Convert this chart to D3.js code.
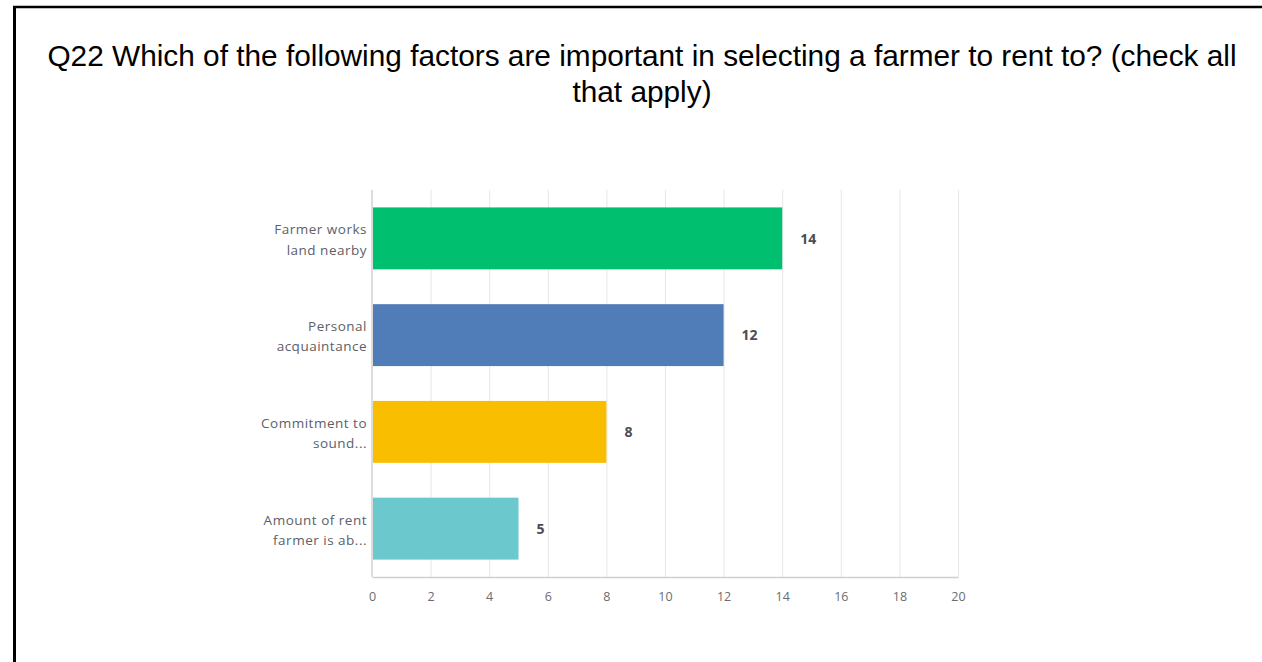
<!DOCTYPE html>
<html>
<head>
<meta charset="utf-8">
<script src="https://cdn.jsdelivr.net/npm/d3@7"></script>
<style>
  body { margin: 0; background: #fff; }
  svg { display: block; }
</style>
</head>
<body>
<div id="chart"></div>
<script>
// chart data
var categories = [["Farmer works", "land nearby"], ["Personal", "acquaintance"], ["Commitment to", "sound..."], ["Amount of rent", "farmer is ab..."]];
var values = [14, 12, 8, 5];
var barColors = ["#00bf6f", "#507cb7", "#f9be00", "#6bc8cd"];
var xTicks = [0, 2, 4, 6, 8, 10, 12, 14, 16, 18, 20];
var titleLines = ["Q22 Which of the following factors are important in selecting a farmer to rent to? (check all", "that apply)"];

var W = 1262, H = 662;
var margin = {top: 190, right: 304, bottom: 85, left: 372},
    width = W - margin.left - margin.right,
    height = H - margin.top - margin.bottom;

var labelFont = "'Open Sans', 'Noto Sans', sans-serif";

var root = d3.select("#chart").append("svg")
    .attr("width", W)
    .attr("height", H);

// frame lines (top and left)
root.append("line").attr("x1", 13).attr("x2", W).attr("y1", 7).attr("y2", 7)
    .attr("stroke", "#000").attr("stroke-width", 2.5);
root.append("line").attr("x1", 14.5).attr("x2", 14.5).attr("y1", 6).attr("y2", H)
    .attr("stroke", "#000").attr("stroke-width", 3);

// title
root.append("g").selectAll("text")
    .data(titleLines)
    .enter()
    .append("text")
    .attr("x", 642)
    .attr("y", (d, i) => 66 + i * 36)
    .attr("text-anchor", "middle")
    .style("font-family", "'Liberation Sans', Arial, sans-serif")
    .style("font-size", "29.8px")
    .style("fill", "#000")
    .text(d => d);

var svg = root.append("g")
    .attr("transform", "translate(" + margin.left + "," + margin.top + ")");

var x = d3.scaleLinear()
    .domain([0, 20])
    .range([0, width]);

var y = d3.scaleBand()
    .domain(d3.range(values.length))
    .range([0, height])
    .paddingInner(0.36)
    .paddingOuter(0.18);

// grid lines
svg.append("g")
    .selectAll("line")
    .data(xTicks.slice(1))
    .enter()
    .append("line")
    .attr("x1", d => x(d) + 0.5)
    .attr("x2", d => x(d) + 0.5)
    .attr("y1", 0)
    .attr("y2", height)
    .attr("stroke", "#e6e6e6")
    .attr("stroke-width", 1);

// x axis
var xAxis = svg.append("g")
    .attr("transform", "translate(0," + height + ")")
    .call(d3.axisBottom(x).tickValues(xTicks).tickSize(0).tickPadding(15));
xAxis.select(".domain").attr("stroke", "#d0d0d0").attr("stroke-width", 1.5);
xAxis.selectAll("text")
    .style("font-family", labelFont)
    .style("font-size", "12.5px")
    .style("fill", "#6a6d70");

// left axis line
svg.append("line")
    .attr("x1", 0).attr("x2", 0)
    .attr("y1", 0).attr("y2", height)
    .attr("stroke", "#d0d0d0")
    .attr("stroke-width", 1.5);

// bars
svg.append("g")
    .selectAll("rect")
    .data(values)
    .enter()
    .append("rect")
    .attr("x", 1)
    .attr("y", (d, i) => y(i))
    .attr("width", d => x(d) - 1)
    .attr("height", y.bandwidth())
    .attr("fill", (d, i) => barColors[i]);

// value labels
svg.append("g")
    .selectAll("text")
    .data(values)
    .enter()
    .append("text")
    .attr("x", d => x(d) + 18)
    .attr("y", (d, i) => y(i) + y.bandwidth() / 2)
    .attr("dy", "0.38em")
    .style("font-family", labelFont)
    .style("font-size", "14px")
    .style("font-weight", "bold")
    .style("fill", "#4a4e55")
    .text(d => d);

// category labels
var labels = svg.append("g")
    .selectAll("text")
    .data(categories)
    .enter()
    .append("text")
    .attr("text-anchor", "end")
    .attr("x", -5)
    .attr("y", (d, i) => y(i) + y.bandwidth() / 2)
    .style("font-family", labelFont)
    .style("font-size", "13.5px")
    .style("letter-spacing", "0.5px")
    .style("fill", "#5c6068");

labels.selectAll("tspan")
    .data(d => d)
    .enter()
    .append("tspan")
    .attr("x", -5)
    .attr("dy", (d, i) => i === 0 ? "-0.3em" : "1.5em")
    .text(d => d);
</script>
</body>
</html>
